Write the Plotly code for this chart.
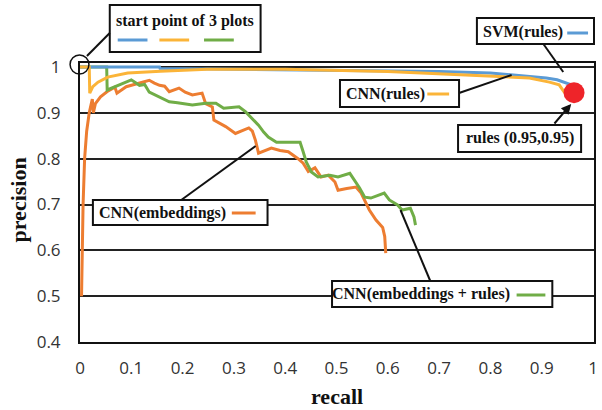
import plotly.graph_objects as go

# ---------------- data ----------------
svm_recall = [0, 0.155, 0.156, 0.3, 0.5, 0.7, 0.8, 0.845, 0.88, 0.909, 0.93, 0.942, 0.955, 0.961, 0.963]
svm_prec = [1.0, 1.0, 0.997, 0.995, 0.993, 0.990, 0.987, 0.983, 0.980, 0.976, 0.972, 0.967, 0.962, 0.956, 0.950]

cnnr_recall = [0, 0.018, 0.019, 0.025, 0.035, 0.054, 0.093, 0.157, 0.248, 0.4, 0.6, 0.619, 0.7, 0.812,
               0.876, 0.915, 0.934, 0.944, 0.95]
cnnr_prec = [1.0, 1.0, 0.943, 0.957, 0.967, 0.978, 0.987, 0.991, 0.995, 0.995, 0.990, 0.989, 0.986, 0.980,
             0.976, 0.967, 0.961, 0.945, 0.940]

cnne_recall = [0.003, 0.004, 0.006, 0.009, 0.013, 0.018, 0.024, 0.026, 0.03, 0.04, 0.055, 0.068, 0.072,
               0.09, 0.116, 0.135, 0.145, 0.155, 0.165, 0.174, 0.193, 0.205, 0.219, 0.238, 0.245, 0.258,
               0.261, 0.284, 0.303, 0.315, 0.329, 0.336, 0.342, 0.348, 0.36, 0.373, 0.39, 0.406, 0.425,
               0.435, 0.445, 0.458, 0.47, 0.484, 0.497, 0.503, 0.52, 0.538, 0.548, 0.555, 0.564, 0.577,
               0.59, 0.594, 0.596]
cnne_prec = [0.5, 0.6, 0.7, 0.8, 0.86, 0.9, 0.93, 0.9, 0.92, 0.935, 0.948, 0.956, 0.943,
             0.957, 0.965, 0.971, 0.965, 0.96, 0.958, 0.946, 0.954, 0.945, 0.939, 0.943, 0.92, 0.913,
             0.884, 0.87, 0.855, 0.86, 0.867, 0.86, 0.84, 0.812, 0.818, 0.823, 0.818, 0.815, 0.8,
             0.79, 0.772, 0.78, 0.76, 0.764, 0.749, 0.731, 0.735, 0.738, 0.725, 0.71, 0.688, 0.666,
             0.65, 0.63, 0.594]

cnner_recall = [0, 0.052, 0.053, 0.068, 0.085, 0.1, 0.116, 0.126, 0.135, 0.155, 0.174, 0.19, 0.219,
                0.245, 0.265, 0.28, 0.31, 0.323, 0.335, 0.348, 0.358, 0.367, 0.383, 0.429, 0.435, 0.441,
                0.451, 0.464, 0.487, 0.503, 0.526, 0.535, 0.545, 0.555, 0.567, 0.593, 0.603, 0.619,
                0.628, 0.644, 0.651, 0.654]
cnner_prec = [1.0, 1.0, 0.95, 0.957, 0.965, 0.972, 0.96, 0.962, 0.945, 0.935, 0.924, 0.922, 0.917,
              0.921, 0.921, 0.91, 0.913, 0.902, 0.889, 0.873, 0.858, 0.847, 0.836, 0.836, 0.815, 0.793,
              0.771, 0.76, 0.764, 0.76, 0.768, 0.753, 0.736, 0.716, 0.714, 0.725, 0.71, 0.699,
              0.688, 0.692, 0.673, 0.655]

rules_recall = [0.963]
rules_prec = [0.944]

x_ticks = [0, 0.1, 0.2, 0.3, 0.4, 0.5, 0.6, 0.7, 0.8, 0.9, 1.0]
x_ticklabels = ["0", "0.1", "0.2", "0.3", "0.4", "0.5", "0.6", "0.7", "0.8", "0.9", "1"]
y_ticks = [0.4, 0.5, 0.6, 0.7, 0.8, 0.9, 1.0]
y_ticklabels = ["0.4", "0.5", "0.6", "0.7", "0.8", "0.9", "1"]

BLUE = "#5B9BD5"
YELLOW = "#FBB438"
ORANGE = "#ED7D31"
GREEN = "#70AD47"
RED = "#EE2429"

# ---------------- layout helpers (pixel -> paper) ----------------
L, R, T, B = 80, 598, 63, 342
W, H = 602, 410


def px(x):
    return (x - L) / (R - L)


def py(y):
    return (B - y) / (B - T)


fig = go.Figure()
fig.add_trace(go.Scatter(x=cnne_recall, y=cnne_prec, mode="lines", line=dict(color=ORANGE, width=3),
                         name="CNN(embeddings)"))
fig.add_trace(go.Scatter(x=cnner_recall, y=cnner_prec, mode="lines", line=dict(color=GREEN, width=3),
                         name="CNN(embeddings + rules)"))
fig.add_trace(go.Scatter(x=svm_recall, y=svm_prec, mode="lines", line=dict(color=BLUE, width=3),
                         name="SVM(rules)"))
fig.add_trace(go.Scatter(x=cnnr_recall, y=cnnr_prec, mode="lines", line=dict(color=YELLOW, width=3),
                         name="CNN(rules)"))
fig.add_trace(go.Scatter(x=rules_recall, y=rules_prec, mode="markers",
                         marker=dict(color=RED, size=21, line=dict(width=0)), name="rules", cliponaxis=False))

shapes = []
annotations = []
LBL_FONT = dict(family="Liberation Serif", size=16, color="#111")


def box(x0, y0, x1, y1):
    shapes.append(dict(type="rect", xref="paper", yref="paper", x0=px(x0), x1=px(x1), y0=py(y1), y1=py(y0),
                       line=dict(color="#111", width=2), fillcolor="white", layer="above"))


def seg(x0, y0, x1, y1, color="#111", width=2):
    shapes.append(dict(type="line", xref="paper", yref="paper", x0=px(x0), x1=px(x1), y0=py(y0), y1=py(y1),
                       line=dict(color=color, width=width), layer="above"))


def text(x, y, s, size=16):
    annotations.append(dict(xref="paper", yref="paper", x=px(x), y=py(y), text="<b>" + s + "</b>",
                            showarrow=False, xanchor="center", yanchor="middle",
                            font=dict(family="Liberation Serif", size=size, color="#111")))


# start point box
box(110, 5, 262, 52)
text(186, 21, "start point of 3 plots")
seg(118, 40, 148, 40, BLUE, 3)
seg(160, 40, 190, 40, YELLOW, 3)
seg(205, 40, 235, 40, GREEN, 3)
seg(110, 33, 87, 56)
shapes.append(dict(type="circle", xref="paper", yref="paper", x0=px(70), x1=px(89), y0=py(74), y1=py(55),
                   line=dict(color="#111", width=1.5), layer="above"))

# SVM(rules)
seg(547, 44, 567, 72)
box(480, 18, 598, 44)
text(526, 32, "SVM(rules)")
seg(571, 33, 592, 33, BLUE, 3)

# CNN(rules)
seg(462, 93, 515, 75)
box(342, 80, 462, 107)
text(388, 94, "CNN(rules)")
seg(430, 94, 452, 94, YELLOW, 3)

# rules (0.95,0.95)
box(461, 125, 585, 152)
text(523, 138, "rules (0.95,0.95)")
annotations.append(dict(xref="paper", yref="paper", x=px(575), y=py(104), text="", showarrow=True,
                        axref="pixel", ayref="pixel", ax=-18, ay=21, arrowhead=2, arrowsize=1,
                        arrowwidth=2, arrowcolor="#111", standoff=0))

# CNN(embeddings)
seg(182, 200, 257, 146)
box(93, 200, 269, 225)
text(163, 213, "CNN(embeddings)")
seg(233, 213, 257, 213, ORANGE, 3)

# CNN(embeddings + rules)
seg(403, 210, 433, 281)
box(334, 281, 556, 307)
text(424, 294, "CNN(embeddings + rules)")
seg(520, 295, 549, 295, GREEN, 3)

# axis titles
annotations.append(dict(xref="paper", yref="paper", x=px(18), y=py(200), text="<b>precision</b>",
                        textangle=-90, showarrow=False, xanchor="center", yanchor="middle",
                        font=dict(family="Liberation Serif", size=22, color="#111")))
annotations.append(dict(xref="paper", yref="paper", x=px(339), y=py(396), text="<b>recall</b>",
                        showarrow=False, xanchor="center", yanchor="middle",
                        font=dict(family="Liberation Serif", size=22, color="#111")))

yr0 = 0.4
yr1 = 1.0 + (67 - T) / ((B - 67) / 0.6)
xr1 = (R - L) / 517.0

fig.update_layout(
    width=W, height=H,
    margin=dict(l=L, r=W - R, t=T, b=H - B, pad=0),
    paper_bgcolor="white", plot_bgcolor="white",
    showlegend=False,
    shapes=shapes, annotations=annotations,
    xaxis=dict(range=[0, xr1], tickvals=x_ticks, ticktext=x_ticklabels, showgrid=False, zeroline=False,
               showline=True, linecolor="#111", linewidth=2, mirror=True, ticks="",
               tickfont=dict(family="Open Sans", size=17, color="#333"), ticklabelstandoff=10),
    yaxis=dict(range=[yr0, yr1], tickvals=y_ticks, ticktext=y_ticklabels, showgrid=True, gridcolor="#222",
               gridwidth=1.6, zeroline=False, showline=True, linecolor="#111", linewidth=2, mirror=True,
               ticks="", tickfont=dict(family="Open Sans", size=17, color="#333"), ticklabelstandoff=14),
)

fig.write_html("out.html")
